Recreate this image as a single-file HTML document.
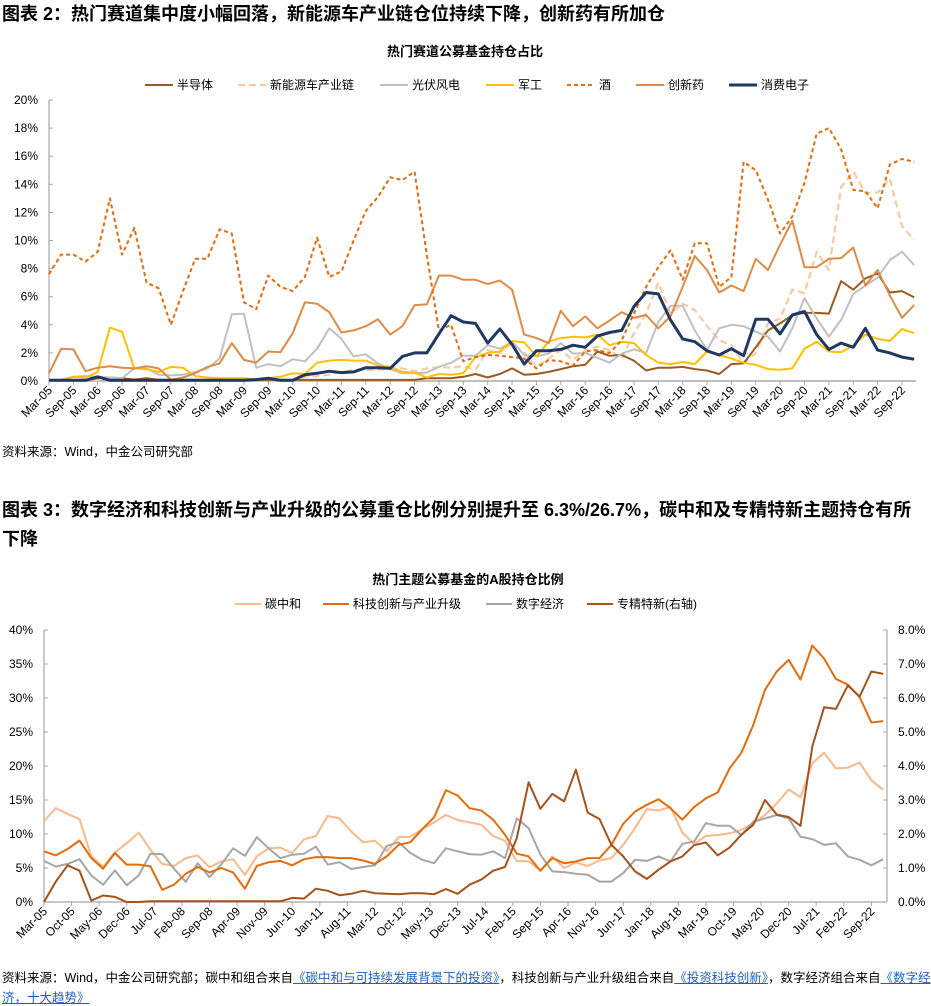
<!DOCTYPE html>
<html><head><meta charset="utf-8">
<style>
body{margin:0;background:#fff;width:931px;height:1005px;overflow:hidden;position:relative;font-family:"Liberation Sans","Noto Sans CJK SC",sans-serif;}
.t{position:absolute;left:2px;font-weight:bold;font-size:18px;color:#000;white-space:nowrap;}
.src{position:absolute;left:2px;font-size:12.5px;color:#000;white-space:nowrap;}
.lk{color:#1f5fbf;text-decoration:underline;}
svg{position:absolute;left:0;top:0;}
</style></head><body>
<div class="t" style="top:0px;">图表 2：热门赛道集中度小幅回落，新能源车产业链仓位持续下降，创新药有所加仓</div>
<div class="src" style="top:441px;">资料来源：Wind，中金公司研究部</div>
<div class="t" style="top:496px;">图表 3：数字经济和科技创新与产业升级的公募重仓比例分别提升至 6.3%/26.7%，碳中和及专精特新主题持仓有所</div>
<div class="t" style="top:525px;">下降</div>
<div class="src" style="top:967px;">资料来源：Wind，中金公司研究部；碳中和组合来自<span class="lk">《碳中和与可持续发展背景下的投资》</span>，科技创新与产业升级组合来自<span class="lk">《投资科技创新》</span>，数字经济组合来自<span class="lk">《数字经</span></div>
<div class="src" style="top:987px;"><span class="lk">济，十大趋势》</span></div>
<svg id="svg" width="931" height="1005"></svg>
<script>
// ---------- Chart 1 data ----------
const topTicks = ["Mar-05","Sep-05","Mar-06","Sep-06","Mar-07","Sep-07","Mar-08","Sep-08","Mar-09","Sep-09","Mar-10","Sep-10","Mar-11","Sep-11","Mar-12","Sep-12","Mar-13","Sep-13","Mar-14","Sep-14","Mar-15","Sep-15","Mar-16","Sep-16","Mar-17","Sep-17","Mar-18","Sep-18","Mar-19","Sep-19","Mar-20","Sep-20","Mar-21","Sep-21","Mar-22","Sep-22"];
const topYTicks = [0,2,4,6,8,10,12,14,16,18,20];
const semi = [0.05,0.05,0.05,0.05,0.2,0.25,0.2,0.1,0.2,0.08,0.08,0.08,0.08,0.08,0.08,0.08,0.08,0.08,0.08,0.08,0.08,0.08,0.08,0.08,0.08,0.08,0.08,0.08,0.08,0.08,0.08,0.2,0.2,0.2,0.3,
0.5,0.25,0.5,0.9,0.45,0.5,0.65,0.85,1.05,1.15,2.1,1.8,1.85,1.45,0.75,0.95,0.95,1.0,0.85,0.75,0.5,1.2,1.25,2.4,3.6,4.1,4.7,4.85,4.85,4.8,7.1,6.5,7.3,7.65,6.3,6.4,5.95];
const nev = [0.05,0.05,0.05,0.05,0.05,0.05,0.05,0.05,0.05,0.05,0.05,0.05,0.05,0.05,0.05,0.05,0.05,0.05,0.05,0.05,0.05,0.3,0.35,0.45,0.65,0.8,0.8,0.8,0.9,0.9,0.7,0.9,1.0,0.95,1.05,
0.8,2.2,2.0,2.7,2.0,1.0,1.6,2.2,1.5,2.2,2.45,2.2,1.6,3.4,4.8,7.0,4.8,5.5,5.05,3.9,2.9,2.55,1.25,2.0,4.1,4.45,6.5,6.25,9.2,7.9,13.8,14.9,13.4,13.4,14.4,11.0,10.05];
const solar = [0.05,0.1,0.3,0.35,0.3,0.25,0.2,0.9,0.9,0.45,0.4,0.45,0.65,0.9,1.6,4.75,4.8,0.95,1.2,1.05,1.55,1.4,2.3,3.75,3.0,1.75,1.9,1.25,0.85,0.55,0.55,0.6,1.0,1.3,1.8,
1.8,2.55,2.3,2.8,1.85,1.75,1.95,2.7,1.95,2.0,1.65,1.3,1.95,2.25,2.0,4.2,5.35,5.35,3.6,2.2,3.75,4.0,3.9,3.5,3.15,2.1,3.75,5.9,4.45,3.15,4.35,6.2,6.8,7.35,8.6,9.2,8.25];
const military = [0,0.05,0.3,0.25,0.65,3.8,3.5,0.9,0.85,0.65,1.0,0.95,0.35,0.25,0.2,0.2,0.2,0.1,0.2,0.3,0.55,0.5,1.3,1.45,1.5,1.45,1.45,1.1,1.0,0.65,0.6,0.25,0.5,0.45,0.55,
1.7,2.0,2.1,2.85,2.75,1.75,2.8,3.05,3.15,3.1,3.3,2.55,2.8,2.7,1.85,1.3,1.2,1.35,1.2,2.1,1.85,1.6,1.3,1.15,0.85,0.8,0.9,2.3,2.8,2.1,2.05,2.55,3.3,3.0,2.85,3.7,3.4];
const liquor = [7.6,9.0,9.0,8.5,9.2,13.0,9.0,10.9,7.0,6.6,4.0,6.4,8.7,8.7,10.8,10.5,5.6,5.1,7.5,6.7,6.4,7.4,10.2,7.4,7.8,10.0,12.1,13.1,14.5,14.3,14.9,9.0,3.6,4.0,1.4,
1.7,1.85,1.8,1.7,1.6,0.9,1.5,1.4,1.1,2.1,2.2,2.0,2.9,4.8,6.7,8.1,9.3,7.2,9.8,9.8,6.7,7.4,15.6,15.0,12.9,10.5,11.7,14.1,17.6,18.0,16.5,13.6,13.5,12.3,15.4,15.8,15.6];
const pharma = [0.55,2.3,2.25,0.7,0.95,1.05,0.95,0.9,1.05,0.9,0.1,0.25,0.55,1.0,1.25,2.7,1.5,1.3,2.1,2.05,3.4,5.6,5.5,4.9,3.45,3.6,3.9,4.4,3.3,3.9,5.4,5.45,7.5,7.5,7.2,
7.2,6.9,7.15,6.5,3.3,3.05,2.7,5.0,3.9,4.6,3.75,4.3,4.9,4.5,4.7,3.75,4.6,6.7,8.9,7.9,6.3,6.8,6.4,8.7,7.9,9.7,11.4,8.1,8.1,8.7,8.75,9.5,6.8,7.9,6.1,4.5,5.4];
const consumerElec = [0.05,0.05,0.05,0.05,0.3,0.05,0.05,0.05,0.05,0.05,0.05,0.05,0.05,0.05,0.05,0.05,0.05,0.1,0.2,0.05,0.05,0.45,0.55,0.7,0.6,0.65,0.95,0.95,0.9,1.75,2.0,2.0,3.35,4.65,4.2,
4.1,2.7,3.7,2.6,1.2,2.15,2.15,2.25,2.55,2.4,3.2,3.45,3.6,5.3,6.3,6.2,4.35,3.0,2.8,2.15,1.85,2.3,1.8,4.4,4.4,3.35,4.7,4.95,3.3,2.25,2.7,2.4,3.75,2.2,2.0,1.7,1.55];

// ---------- Chart 2 data ----------
const botTicks = ["Mar-05","Oct-05","May-06","Dec-06","Jul-07","Feb-08","Sep-08","Apr-09","Nov-09","Jun-10","Jan-11","Aug-11","Mar-12","Oct-12","May-13","Dec-13","Jul-14","Feb-15","Sep-15","Apr-16","Nov-16","Jun-17","Jan-18","Aug-18","Mar-19","Oct-19","May-20","Dec-20","Jul-21","Feb-22","Sep-22"];
const botYTicks = [0,5,10,15,20,25,30,35,40];
const botY2Ticks = [0,1,2,3,4,5,6,7,8];
const carbon = [11.9,13.8,12.95,12.2,6.7,5.2,7.3,8.65,10.2,7.7,5.6,5.3,6.45,6.85,5.1,5.95,6.3,4.0,6.7,7.9,8.0,7.2,9.2,9.7,12.65,12.3,10.35,8.8,9.0,7.45,9.55,9.6,10.7,11.7,12.8,12.05,
11.7,11.35,9.7,9.0,6.0,6.0,4.6,6.7,5.0,5.8,5.3,6.1,6.45,8.4,10.85,13.65,13.45,13.95,10.2,8.55,9.7,9.85,10.1,10.6,11.6,12.8,14.5,16.55,15.4,20.4,21.95,19.65,19.75,20.5,17.9,16.5];
const tech = [7.45,6.85,7.8,9.05,6.45,4.9,7.2,5.5,5.5,5.25,1.8,2.55,4.15,5.15,4.35,5.0,4.35,1.95,5.3,5.85,6.05,5.4,6.3,6.6,6.6,6.45,6.45,6.1,5.6,6.7,8.4,8.8,10.7,12.45,16.45,15.65,
13.8,13.45,12.1,9.9,7.1,6.7,4.6,6.45,5.7,5.95,6.45,6.45,8.4,11.5,13.3,14.3,15.1,13.8,12.1,13.95,15.25,16.1,19.65,21.95,26.0,31.2,33.9,35.6,32.7,37.7,35.8,32.8,31.95,30.15,26.4,26.6];
const digital = [6.05,5.2,5.6,6.3,3.9,2.55,4.65,2.45,3.9,7.1,7.05,4.9,2.95,5.7,3.65,5.55,7.9,6.8,9.55,7.9,6.45,6.95,7.1,8.15,5.5,5.85,4.85,5.15,5.4,8.25,8.8,7.2,6.2,5.7,7.9,7.45,
7.05,6.95,7.45,6.45,12.3,10.85,6.95,4.5,4.4,4.15,4.0,3.0,3.0,4.25,6.2,6.05,6.7,5.95,8.55,8.9,11.6,11.2,11.2,9.85,11.8,12.3,12.8,12.3,9.6,9.25,8.4,8.65,6.7,6.2,5.4,6.3];
const specialized = [0,0.6,1.08,0.92,0.04,0.19,0.15,0,0,0.02,0.02,0.02,0.02,0.02,0.02,0.02,0.02,0.02,0.02,0.02,0.02,0.12,0.1,0.39,0.33,0.2,0.24,0.33,0.26,0.24,0.23,0.26,0.26,0.23,0.38,0.24,
0.51,0.66,0.92,1.03,1.88,3.52,2.74,3.18,2.96,3.89,2.63,2.44,1.68,1.34,0.9,0.68,0.95,1.19,1.34,1.67,1.75,1.37,1.6,1.98,2.27,3.0,2.57,2.5,2.24,4.57,5.73,5.68,6.37,6.04,6.78,6.71];

const NS='http://www.w3.org/2000/svg';
const svg=document.getElementById('svg');
function mk(tag,attrs,parent){const e=document.createElementNS(NS,tag);for(const k in attrs)e.setAttribute(k,attrs[k]);(parent||svg).appendChild(e);return e;}
function txt(x,y,s,attrs){const e=mk('text',Object.assign({x:x,y:y,'font-size':12,'font-family':'"Liberation Sans","Noto Sans CJK SC",sans-serif',fill:'#000'},attrs||{}));e.textContent=s;return e;}

// ---- Chart 1 axes ----
const t1 = {x0:49,x1:902,y0:381,y1:100};
const t1x = i => t1.x0 + (t1.x1-t1.x0)*i/70;
const t1y = v => t1.y0 - (t1.y0-t1.y1)*v/20;
const ct1 = txt(465,56,'热门赛道公募基金持仓占比',{'font-size':13,'font-weight':'bold','text-anchor':'middle'});


const ax1 = mk('line',{x1:t1.x0,y1:t1.y1,x2:t1.x0,y2:t1.y0,stroke:'#a6a6a6','stroke-width':1.2});


const bx1 = mk('line',{x1:t1.x0,y1:t1.y0,x2:t1x(71)+2,y2:t1.y0,stroke:'#bfbfbf','stroke-width':2});


topYTicks.forEach(v=>{
  const y=t1y(v);
  mk('line',{x1:t1.x0,y1:y,x2:t1.x0+4,y2:y,stroke:'#a6a6a6'});
  const l=txt(38,y+4,v+'%',{'text-anchor':'end'});
  
  
});
topTicks.forEach((s,k)=>{
  const x=t1x(k*2);
  mk('line',{x1:x,y1:t1.y0,x2:x,y2:t1.y0+4,stroke:'#a6a6a6'});
  const l=txt(x+4,t1.y0+10,s,{'text-anchor':'end',transform:`rotate(-45 ${x+4} ${t1.y0+10})`});
  
  
});
function series(data,xf,yf,color,w,dash,name){
  const d=data.map((v,i)=>(i?'L':'M')+xf(i).toFixed(1)+' '+yf(v).toFixed(1)).join(' ');
  const p=mk('path',{d:d,fill:'none',stroke:color,'stroke-width':w,'stroke-linejoin':'round'});
  if(dash)p.setAttribute('stroke-dasharray',dash);
  
  
}
series(nev,t1x,t1y,'#f8caa4',2.2,'7,4','line-nev-chain');
series(semi,t1x,t1y,'#9c5a1e',2,null,'line-semiconductor');
series(solar,t1x,t1y,'#c0c0c0',2,null,'line-solar-wind');
series(military,t1x,t1y,'#ffc000',2,null,'line-military');
series(pharma,t1x,t1y,'#e08b45',2,null,'line-innovative-drug');
series(liquor,t1x,t1y,'#e46c0a',2,'4,3','line-liquor');
series(consumerElec,t1x,t1y,'#1f3864',3,null,'line-consumer-electronics');

function legend(x,y,color,w,dash,label,name,len){
  const g=mk('g',{});
  
  
  const l=mk('line',{x1:x,y1:y,x2:x+(len||28),y2:y,stroke:color,'stroke-width':w},g);
  if(dash)l.setAttribute('stroke-dasharray',dash);
  txt(x+(len||28)+4,y+4,label,{},g);
}
legend(145,85,'#9c5a1e',2,null,'半导体','legend-semiconductor');
legend(238,85,'#f8caa4',2.2,'7,4','新能源车产业链','legend-nev-chain');
legend(380,85,'#c0c0c0',2,null,'光伏风电','legend-solar-wind');
legend(486,85,'#ffc000',2,null,'军工','legend-military');
legend(567,85,'#e46c0a',2,'4,3','酒','legend-liquor');
legend(636,85,'#e08b45',2,null,'创新药','legend-innovative-drug');
legend(729,85,'#1f3864',3,null,'消费电子','legend-consumer-electronics');

// ---- Chart 2 axes ----
const b = {x0:44,x1:887,y0:902,y1:630};
const bx = i => b.x0 + 11.82*i;
const by = v => b.y0 - (b.y0-b.y1)*v/40;
const by2 = v => b.y0 - (b.y0-b.y1)*v/8;
const ct2 = txt(468,584,'热门主题公募基金的A股持仓比例',{'font-size':13,'font-weight':'bold','text-anchor':'middle'});


const ay2 = mk('line',{x1:b.x0,y1:b.y1,x2:b.x0,y2:b.y0,stroke:'#a6a6a6','stroke-width':1.2});


const ayr = mk('line',{x1:b.x1,y1:b.y1,x2:b.x1,y2:b.y0,stroke:'#a6a6a6','stroke-width':1.2});


const axb = mk('line',{x1:b.x0,y1:b.y0,x2:b.x1,y2:b.y0,stroke:'#a6a6a6','stroke-width':1.2});


botYTicks.forEach(v=>{
  const y=by(v);
  mk('line',{x1:b.x0,y1:y,x2:b.x0+4,y2:y,stroke:'#a6a6a6'});
  const l=txt(33,y+4,v+'%',{'text-anchor':'end'});
  
  
});
botY2Ticks.forEach(v=>{
  const y=by2(v);
  mk('line',{x1:b.x1-4,y1:y,x2:b.x1,y2:y,stroke:'#a6a6a6'});
  const l=txt(898,y+4,v.toFixed(1)+'%',{});
  
  
});
botTicks.forEach((s,k)=>{
  const x=bx(k*7/3);
  mk('line',{x1:x,y1:b.y0,x2:x,y2:b.y0+4,stroke:'#a6a6a6'});
  const l=txt(x+4,b.y0+10,s,{'text-anchor':'end',transform:`rotate(-45 ${x+4} ${b.y0+10})`});
  
  
});
series(carbon,bx,by,'#f9b98a',2,null,'line-carbon-neutral');
series(digital,bx,by,'#a6a6a6',2,null,'line-digital-economy');
series(tech,bx,by,'#e46c0a',2,null,'line-tech-innovation');
series(specialized,bx,by2,'#a5521b',2,null,'line-specialized-new');
legend(235,604,'#f9b98a',2,null,'碳中和','legend-carbon-neutral',26);
legend(323,604,'#e46c0a',2,null,'科技创新与产业升级','legend-tech-innovation',26);
legend(486,604,'#a6a6a6',2,null,'数字经济','legend-digital-economy',26);
legend(587,604,'#a5521b',2,null,'专精特新(右轴)','legend-specialized-new',26);
</script>
</body></html>
